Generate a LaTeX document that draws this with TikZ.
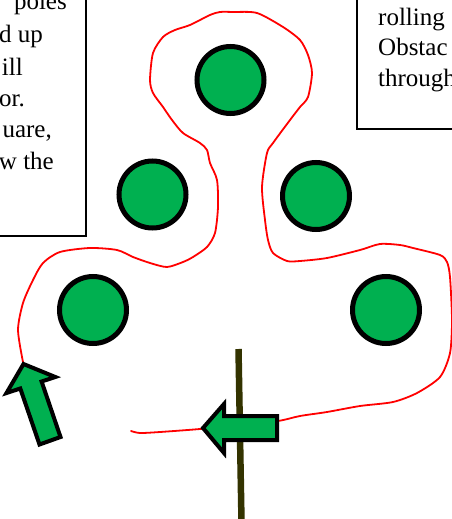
\documentclass[tikz,border=0pt]{standalone}
\usepackage{fontspec}
\setmainfont{Liberation Serif}
\definecolor{obsgreen}{HTML}{00B050}
\definecolor{polecol}{HTML}{333300}
\begin{document}
\begin{tikzpicture}[x=1pt,y=-1pt,
  obstacle/.style={circle, draw=black, line width=5pt, fill=obsgreen, minimum size=67pt, inner sep=0pt},
  txtbox/.style={draw=black, line width=1.5pt},
  txt/.style={font=\fontsize{25}{31}\selectfont, inner sep=0pt},
  route/.style={red, line width=1.8pt, line join=round, line cap=round},
  blockarrow/.style={draw=black, line width=4pt, fill=obsgreen, line join=miter, miter limit=4},
  polestyle/.style={draw=polecol, line width=6.5pt}]
\useasboundingbox (0,0) rectangle (452,519);
\clip (0,0) rectangle (452,519);

% text boxes
\draw[txtbox] (-10,-10) rectangle (86,236);
\draw[txtbox] (357,-10) rectangle (465,129);
\node[txt, anchor=base east] (l1) at (67,10) {poles};
\node[txt, anchor=base east] (l2) at (43,43) {d up};
\node[txt, anchor=base east] (l3) at (23,75) {ill};
\node[txt, anchor=base east] (l4) at (25,106) {or.};
\node[txt, anchor=base east] (l5) at (52,137) {uare,};
\node[txt, anchor=base east] (l6) at (54,169) {w the};
\node[txt, anchor=base west] (r1) at (378,26) {rolling};
\node[txt, anchor=base west] (r2) at (378,56) {Obstac};
\node[txt, anchor=base west] (r3) at (378,86) {through};

% pole
\coordinate (poletop) at (238.5,349);
\coordinate (polebot) at (241.5,522);
\draw[polestyle] (poletop) -- (polebot);

% robot route
\draw[route] plot[smooth, tension=0.45] coordinates {
 (131,431) (140,433) (160,432) (200,429) (240,425) (278,421) (300,416) (327,412)
 (360,406) (393,402) (417,393) (440,377) (450,353) (452,320) (450,277) (447,262)
 (440,255) (413,248) (400,245) (380,244) (360,250) (327,258) (300,261) (287,261)
 (273,253) (268,240) (265,220) (262,187) (267,153) (273,143) (290,120) (300,107)
 (308,97) (312,73) (308,55) (300,40) (283,27) (257,13) (233,12) (220,12) (210,15)
 (190,25) (175,30) (163,37) (153,53) (150,80) (153,93) (163,107) (172,120) (183,133)
 (200,143) (207,150) (210,163) (217,180) (218,207) (215,233) (207,247) (193,257)
 (183,262) (167,267) (150,263) (133,257) (117,250) (90,248) (60,252) (43,263)
 (33,280) (23,303) (18,330) (23,362)};

% obstacles
\node[obstacle] (o1) at (230.5,80) {};
\node[obstacle] (o2) at (152.5,194.5) {};
\node[obstacle] (o3) at (316,196) {};
\node[obstacle] (o4) at (93,310) {};
\node[obstacle] (o5) at (386,310) {};

% direction arrows
\draw[blockarrow] (203,428) -- (224,404) -- (224,416) -- (277,416) -- (277,440)
  -- (224,440) -- (224,453) -- cycle;
\draw[blockarrow] (23.5,364) -- (55.3,377) -- (41.6,381.5) -- (60.5,437) -- (39.5,444.5)
  -- (20.3,388.5) -- (6.5,393) -- cycle;
\end{tikzpicture}
\end{document}
